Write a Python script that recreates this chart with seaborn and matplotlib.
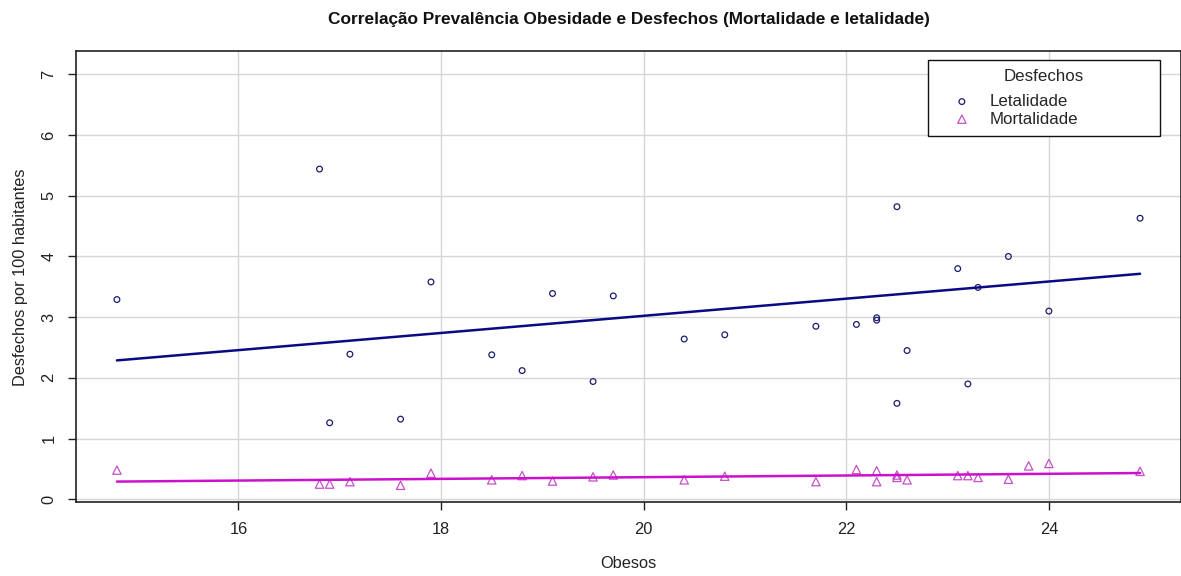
import numpy as np
import pandas as pd
import matplotlib
matplotlib.use("Agg")
import matplotlib.pyplot as plt
import seaborn as sns

# ---- data ----
obesos = [14.8, 16.8, 16.9, 17.1, 17.6, 17.9, 18.5, 18.8, 19.1, 19.5, 19.7, 20.4, 20.8, 21.7,
          22.1, 22.3, 22.3, 22.5, 22.5, 22.6, 23.1, 23.2, 23.3, 23.6, 23.8, 24.0, 24.9]
letalidade = [3.29, 5.44, 1.26, 2.39, 1.32, 3.58, 2.38, 2.12, 3.39, 1.94, 3.35, 2.64, 2.71, 2.85,
              2.88, 2.99, 2.95, 4.82, 1.58, 2.45, 3.80, 1.90, 3.49, 4.00, 7.15, 3.10, 4.63]
mortalidade = [0.48, 0.25, 0.25, 0.29, 0.23, 0.43, 0.32, 0.39, 0.30, 0.37, 0.40, 0.32, 0.38, 0.29,
               0.49, 0.47, 0.29, 0.40, 0.36, 0.32, 0.39, 0.39, 0.36, 0.33, 0.55, 0.59, 0.46]
series_names = ["Letalidade", "Mortalidade"]
x_ticks = [16, 18, 20, 22, 24]
y_ticks = [0, 1, 2, 3, 4, 5, 6, 7]

df = pd.DataFrame({"Obesos": obesos, "Letalidade": letalidade, "Mortalidade": mortalidade})

sns.set_theme(style="white")
plt.rcParams["font.family"] = ["Liberation Sans", "DejaVu Sans"]

fig = plt.figure(figsize=(11.81, 5.76), dpi=100)
ax = fig.add_axes([76 / 1181, (576 - 502.3) / 576, 1 - 76 / 1181, (502.3 - 51.3) / 576])

point_colors = {"Letalidade": "#1c1c6e", "Mortalidade": "#c650c6"}
line_colors = {"Letalidade": "#0a0a85", "Mortalidade": "#cc11cc"}
markers = {"Letalidade": "o", "Mortalidade": "^"}
sizes = {"Letalidade": 17, "Mortalidade": 36}

handles = []
for name in series_names:
    sns.scatterplot(data=df, x="Obesos", y=name, ax=ax, marker=markers[name],
                    facecolor="none", edgecolor=point_colors[name], linewidth=0.9,
                    s=sizes[name], zorder=3)
    handles.append(ax.collections[-1])
for name in series_names:
    sns.regplot(data=df, x="Obesos", y=name, ax=ax, scatter=False, ci=None, truncate=True,
                line_kws={"color": line_colors[name], "linewidth": 1.8, "zorder": 4})

ax.set_xlim(14.396, 25.304)
ax.set_ylim(-0.05, 7.38)
ax.set_xticks(x_ticks)
ax.set_yticks(y_ticks)
ax.set_yticklabels([str(v) for v in y_ticks], rotation=90, va="center")
ax.grid(True, color="#d6d6d6", linewidth=1.0)
ax.set_axisbelow(True)
for sp in ax.spines.values():
    sp.set_color("#222222")
    sp.set_linewidth(1.2)
    sp.set_visible(True)
ax.tick_params(axis="both", which="major", direction="out", length=6, width=1,
               color="#222222", labelsize=11.8, pad=8, labelcolor="#222222",
               bottom=True, left=True)

ax.set_xlabel("Obesos", fontsize=11.8, labelpad=14, color="#222222")
ax.set_ylabel("Desfechos por 100 habitantes", fontsize=11.8, labelpad=10, color="#222222")
ax.set_title("Correlação Prevalência Obesidade e Desfechos (Mortalidade e letalidade)",
             fontsize=12.4, fontweight="bold", pad=20, color="#111111")

leg = ax.legend(handles, series_names, title="Desfechos",
                loc="upper left", mode="expand",
                bbox_to_anchor=(928 / 1181, (576 - 134) / 576, (1160 - 928) / 1181, (134 - 60) / 576),
                bbox_transform=fig.transFigure,
                fontsize=12.2, title_fontsize=12.2, frameon=True, fancybox=False,
                framealpha=1, edgecolor="#111111", borderpad=0.55, handlelength=2.9,
                handletextpad=0.2, labelspacing=0.15, borderaxespad=0)
leg.get_frame().set_linewidth(1.0)
leg.set_zorder(10)
# wider gap between the legend title and its entries
leg._legend_box.sep = 7

fig.savefig("out.png", dpi=100)
